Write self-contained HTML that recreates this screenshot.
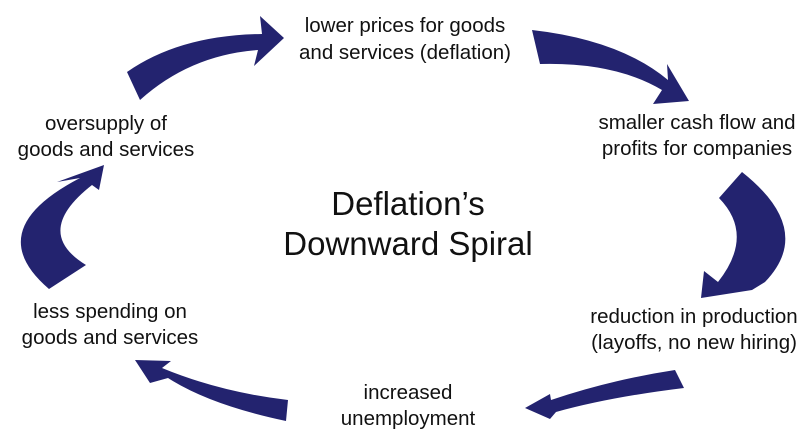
<!DOCTYPE html>
<html><head><meta charset="utf-8"><style>
html,body{margin:0;padding:0;background:#fff;}
svg{display:block;}
text{font-family:"Liberation Sans",Arial,sans-serif;fill:#111;}
</style></head><body>
<svg width="805" height="445" viewBox="0 0 805 445">
<g fill="#23236f">
<path d="M127,72 Q180,35 262,34 L260,16 L284,38 L254,66 L258,50 Q190,55 140,100 Z"/>
<path d="M532,30 Q620,40 668,80 L667,64 L689,101 L653,104 L662,90 Q615,62 540,64 Z"/>
<path d="M742,172 Q815,230 765,282 L752,290 L701,298 L704,271 L718,282 Q755,235 719,198 Z"/>
<path d="M675,370 L684,388 Q610,397 556,412 L550,419 L525,408 L550,394 L551,400 Q610,380 675,370 Z"/>
<path d="M288,400 L286,421 Q210,405 168,378 L150,383 L135,360 L171,361 L162,368 Q220,392 288,400 Z"/>
<path d="M49,289 Q-20,230 80,178 L57,182 L104,165 L99,190 L92,185 Q32,232 86,265 Z"/>
</g>
<g font-size="20.5" text-anchor="middle" transform="scale(1,1)">
<text x="405" y="32">lower prices for goods</text>
<text x="405" y="59">and services (deflation)</text>
<text x="106" y="130">oversupply of</text>
<text x="106" y="156">goods and services</text>
<text x="697" y="129">smaller cash flow and</text>
<text x="697" y="155">profits for companies</text>
<text x="110" y="318">less spending on</text>
<text x="110" y="344">goods and services</text>
<text x="694" y="323">reduction in production</text>
<text x="694" y="349">(layoffs, no new hiring)</text>
<text x="408" y="399">increased</text>
<text x="408" y="425">unemployment</text>
</g>
<g font-size="33" text-anchor="middle">
<text x="408" y="215">Deflation’s</text>
<text x="408" y="255">Downward Spiral</text>
</g>
</svg>
</body></html>
